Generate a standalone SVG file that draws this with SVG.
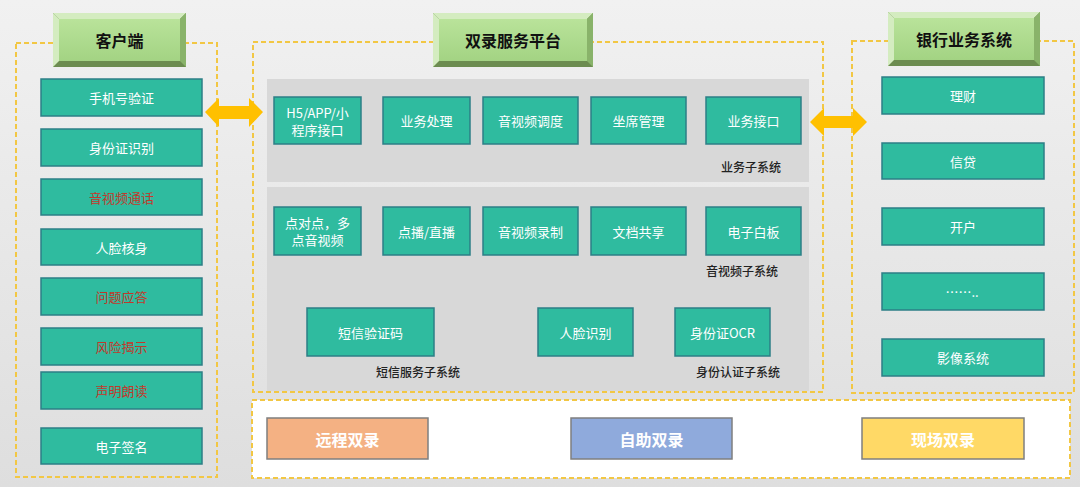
<svg xmlns="http://www.w3.org/2000/svg" width="1080" height="487" viewBox="0 0 1080 487">
<defs>
<linearGradient id="bg" x1="0" y1="0" x2="0" y2="1">
<stop offset="0" stop-color="#f1f1f1"/>
<stop offset="1" stop-color="#dedede"/>
</linearGradient>
<linearGradient id="hdr" x1="0" y1="0" x2="0" y2="1">
<stop offset="0" stop-color="#b9e39a"/>
<stop offset="1" stop-color="#a3d383"/>
</linearGradient>
<style>
.dash{fill:none;stroke:#f2c744;stroke-width:2;stroke-dasharray:5 3}
.panel{fill:#d8d8d8}
.item{fill:#2fbb9f;stroke:#2c7f86;stroke-width:1.5}
.t{font-family:"Noto Sans CJK SC","Noto Sans",sans-serif;font-size:13px;fill:#ffffff;text-anchor:middle;dominant-baseline:central}
.red{fill:#c0392b}
.lbl{font-family:"Noto Sans CJK SC","Noto Sans",sans-serif;font-size:12px;font-weight:500;fill:#222222;text-anchor:middle;dominant-baseline:central}
.h{font-family:"Noto Sans CJK SC","Noto Sans",sans-serif;font-size:16px;font-weight:bold;fill:#111111;text-anchor:middle;dominant-baseline:central}
.bl{fill:#d4ecc0}
.bd{fill:#6c8c50}
.bm{fill:#89b36a}
.mode{stroke:#7f7f7f;stroke-width:1.5}
.mt{font-family:"Noto Sans CJK SC","Noto Sans",sans-serif;font-size:16px;font-weight:bold;fill:#ffffff;text-anchor:middle;dominant-baseline:central}
.arrow{fill:#ffc000}
</style>
</defs>
<rect x="0" y="0" width="1080" height="487" fill="url(#bg)"/>

<!-- containers -->
<g id="client">
<rect class="dash" x="16" y="43" width="201" height="434"/>
<g id="client-header">
<rect x="53" y="13" width="133" height="54" class="bd"/>
<polygon class="bl" points="53,13 186,13 180,19 59,19"/>
<polygon class="bl" points="53,13 59,19 59,61 53,67"/>
<polygon class="bm" points="186,13 186,67 180,61 180,19"/>
<rect x="59" y="19" width="121" height="42" fill="url(#hdr)"/>
<text class="h" x="119.5" y="40">客户端</text>
</g>
<g id="c1"><rect class="item" x="41" y="79" width="161" height="37"/><text class="t" x="121.5" y="97.5">手机号验证</text></g>
<g id="c2"><rect class="item" x="41" y="129" width="161" height="37"/><text class="t" x="121.5" y="147.5">身份证识别</text></g>
<g id="c3"><rect class="item" x="41" y="179" width="161" height="36"/><text class="t red" x="121.5" y="197">音视频通话</text></g>
<g id="c4"><rect class="item" x="41" y="229" width="161" height="36"/><text class="t" x="121.5" y="247">人脸核身</text></g>
<g id="c5"><rect class="item" x="41" y="278" width="161" height="37"/><text class="t red" x="121.5" y="296.5">问题应答</text></g>
<g id="c6"><rect class="item" x="41" y="328" width="161" height="37"/><text class="t red" x="121.5" y="346.5">风险揭示</text></g>
<g id="c7"><rect class="item" x="41" y="372" width="161" height="37"/><text class="t red" x="121.5" y="390.5">声明朗读</text></g>
<g id="c8"><rect class="item" x="41" y="428" width="161" height="36"/><text class="t" x="121.5" y="446">电子签名</text></g>
</g>

<g id="platform">
<rect class="panel" x="267" y="79" width="542" height="103"/>
<rect class="panel" x="267" y="187" width="542" height="204"/>
<rect class="dash" x="253" y="42" width="570" height="350"/>
<g id="platform-header">
<rect x="433" y="13" width="160" height="54" class="bd"/>
<polygon class="bl" points="433,13 593,13 587,19 439,19"/>
<polygon class="bl" points="433,13 439,19 439,61 433,67"/>
<polygon class="bm" points="593,13 593,67 587,61 587,19"/>
<rect x="439" y="19" width="148" height="42" fill="url(#hdr)"/>
<text class="h" x="513" y="40">双录服务平台</text>
</g>
<g id="p1"><rect class="item" x="274" y="97" width="87" height="47"/><text class="t" x="317.5" y="112">H5/APP/小</text><text class="t" x="317.5" y="129">程序接口</text></g>
<g id="p2"><rect class="item" x="383" y="97" width="87" height="47"/><text class="t" x="426.5" y="120.5">业务处理</text></g>
<g id="p3"><rect class="item" x="483" y="97" width="95" height="47"/><text class="t" x="530.5" y="120.5">音视频调度</text></g>
<g id="p4"><rect class="item" x="591" y="97" width="95" height="47"/><text class="t" x="638.5" y="120.5">坐席管理</text></g>
<g id="p5"><rect class="item" x="706" y="97" width="95" height="47"/><text class="t" x="753.5" y="120.5">业务接口</text></g>
<text class="lbl" x="751" y="166">业务子系统</text>
<g id="p6"><rect class="item" x="274" y="207" width="87" height="48"/><text class="t" x="317.5" y="222">点对点，多</text><text class="t" x="317.5" y="239">点音视频</text></g>
<g id="p7"><rect class="item" x="383" y="207" width="87" height="48"/><text class="t" x="426.5" y="231">点播/直播</text></g>
<g id="p8"><rect class="item" x="483" y="207" width="95" height="48"/><text class="t" x="530.5" y="231">音视频录制</text></g>
<g id="p9"><rect class="item" x="591" y="207" width="95" height="48"/><text class="t" x="638.5" y="231">文档共享</text></g>
<g id="p10"><rect class="item" x="706" y="207" width="95" height="48"/><text class="t" x="753.5" y="231">电子白板</text></g>
<text class="lbl" x="742" y="270">音视频子系统</text>
<g id="p11"><rect class="item" x="307" y="308" width="127" height="48"/><text class="t" x="370.5" y="332">短信验证码</text></g>
<g id="p12"><rect class="item" x="538" y="308" width="95" height="48"/><text class="t" x="585.5" y="332">人脸识别</text></g>
<g id="p13"><rect class="item" x="675" y="308" width="95" height="48"/><text class="t" x="722.5" y="332">身份证OCR</text></g>
<text class="lbl" x="418" y="371">短信服务子系统</text>
<text class="lbl" x="738" y="371">身份认证子系统</text>
</g>

<g id="bank">
<rect class="dash" x="852" y="41" width="222" height="352"/>
<g id="bank-header">
<rect x="888" y="12" width="152" height="54" class="bd"/>
<polygon class="bl" points="888,12 1040,12 1034,18 894,18"/>
<polygon class="bl" points="888,12 894,18 894,60 888,66"/>
<polygon class="bm" points="1040,12 1040,66 1034,60 1034,18"/>
<rect x="894" y="18" width="140" height="42" fill="url(#hdr)"/>
<text class="h" x="964" y="39">银行业务系统</text>
</g>
<g id="b1"><rect class="item" x="882" y="77" width="162" height="37"/><text class="t" x="963" y="95.5">理财</text></g>
<g id="b2"><rect class="item" x="882" y="143" width="162" height="36"/><text class="t" x="963" y="161">信贷</text></g>
<g id="b3"><rect class="item" x="882" y="208" width="162" height="37"/><text class="t" x="963" y="226.5">开户</text></g>
<g id="b4"><rect class="item" x="882" y="273" width="162" height="37"/><text class="t" x="962" y="291.5">……..</text></g>
<g id="b5"><rect class="item" x="882" y="339" width="162" height="37"/><text class="t" x="963" y="357.5">影像系统</text></g>
</g>

<g id="modes">
<rect x="252" y="400" width="818" height="78" fill="#ffffff"/>
<rect class="dash" x="252" y="400" width="818" height="78"/>
<g id="m1"><rect class="mode" x="267" y="418" width="161" height="41" fill="#f4b183"/><text class="mt" x="347.5" y="438.5">远程双录</text></g>
<g id="m2"><rect class="mode" x="571" y="418" width="161" height="41" fill="#8faadc"/><text class="mt" x="651.5" y="438.5">自助双录</text></g>
<g id="m3"><rect class="mode" x="862" y="418" width="162" height="41" fill="#ffd966"/><text class="mt" x="943" y="438.5">现场双录</text></g>
</g>

<g id="connectors">
<polygon class="arrow" points="205,112 219,98 219,106 249,106 249,98 263,112 249,127 249,119 219,119 219,127"/>
<polygon class="arrow" points="810,122 824,108 824,116 853,116 853,108 867,122 853,136 853,128 824,128 824,136"/>
</g>
</svg>
